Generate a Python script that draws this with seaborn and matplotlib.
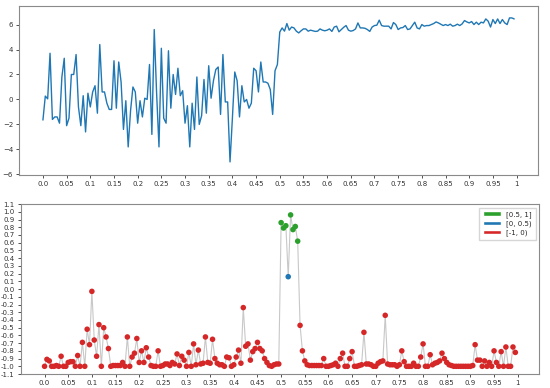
import matplotlib
matplotlib.use("Agg")
import matplotlib.pyplot as plt
from matplotlib.patches import Patch
import numpy as np
import pandas as pd
import seaborn as sns

# DATA
signal = [
    -1.65, 0.27, 0.05, 3.7, -1.6, -1.4, -1.4, -1.9, 1.8, 3.3,
    -2.1, -1.5, 2.0, 2.0, 3.6, -0.6, -2.1, 0.3, -2.6, 0.5,
    -0.6, 0.6, 1.1, -1.1, 4.4, 0.6, 0.6, -0.3, -0.8, -0.8,
    3.1, -0.7, 3.0, 1.4, -2.4, -0.1, -3.8, -0.9, 1.0, 0.6,
    -1.9, -0.1, -1.4, 0.1, 0.0, 2.8, -2.8, 5.6, 0.5, -3.8,
    4.1, -1.5, -1.9, 3.9, -0.7, 2.0, 0.4, 2.5, 0.3, 0.7,
    -1.9, -0.5, -3.8, -0.3, -2.4, 1.8, -2.0, -1.3, 1.6, -1.1,
    2.7, 0.1, 1.5, 2.4, 2.6, -1.2, 3.6, -0.2, -0.2, -5.0,
    -1.5, 2.2, 1.5, -1.4, 1.1, -0.2, 0.0, -0.7, -0.3, 2.5,
    2.3, 0.6, 3.0, 1.4, 1.4, 1.3, 0.8, -1.2, 2.3, 2.8,
    5.4, 5.73, 5.47, 6.08, 5.55, 5.8, 5.73, 5.47, 5.33, 5.5,
    5.65, 5.65, 5.47, 5.55, 5.5, 5.45, 5.47, 5.65, 5.55, 5.5,
    5.55, 5.65, 5.45, 5.8, 5.87, 5.42, 5.6, 5.78, 5.92, 5.55,
    5.47, 5.52, 5.65, 6.13, 5.73, 5.73, 5.7, 5.6, 5.45, 5.8,
    5.92, 5.95, 6.35, 5.92, 5.87, 5.87, 5.87, 5.65, 6.16, 6.0,
    5.6, 5.73, 5.76, 5.92, 5.6, 5.65, 5.92, 6.19, 5.73, 5.65,
    6.0, 5.87, 5.92, 5.92, 6.0, 6.08, 6.21, 6.13, 6.03, 5.92,
    6.0, 5.92, 6.03, 5.87, 5.92, 6.03, 5.92, 6.05, 6.32, 6.21,
    6.13, 6.24, 6.0, 6.19, 6.0, 6.19, 6.13, 6.45, 6.27, 5.8,
    6.4, 6.08, 6.45, 6.08, 6.4, 6.13, 6.0, 6.53, 6.53, 6.45,
]

score = [
    -1.0, -0.91, -0.93, -1.0, -1.0, -0.99, -1.0, -0.87, -1.0, -1.0,
    -0.95, -0.94, -0.94, -1.0, -0.86, -1.0, -0.69, -1.0, -0.52, -0.72,
    -0.03, -0.66, -0.87, -0.46, -1.0, -0.5, -0.62, -0.77, -1.0, -0.99,
    -0.99, -0.99, -0.99, -0.95, -1.0, -0.62, -1.0, -0.88, -0.83, -0.64,
    -0.95, -0.8, -0.95, -0.76, -0.88, -0.99, -1.0, -1.0, -0.8, -1.0,
    -0.99, -0.97, -0.97, -0.99, -0.95, -0.97, -0.84, -0.99, -0.87, -0.92,
    -1.0, -0.82, -1.0, -0.71, -0.98, -0.79, -0.97, -0.96, -0.62, -0.95,
    -0.96, -0.65, -0.9, -0.96, -0.98, -0.98, -1.0, -0.88, -0.89, -1.0,
    -0.98, -0.88, -0.79, -0.96, -0.24, -0.74, -0.71, -0.92, -0.81, -0.77,
    -0.69, -0.77, -0.8, -0.9, -0.95, -0.99, -1.0, -0.98, -0.97, -0.97,
    0.86, 0.79, 0.82, 0.16, 0.96, 0.77, 0.81, 0.62, -0.47, -0.8,
    -0.93, -0.98, -0.99, -0.99, -0.99, -0.99, -0.99, -0.99, -0.9, -1.0,
    -1.0, -0.99, -0.98, -0.96, -1.0, -0.9, -0.83, -1.0, -1.0, -0.9,
    -0.81, -1.0, -1.0, -0.99, -0.98, -0.56, -0.97, -0.97, -0.98, -1.0,
    -1.0, -0.96, -0.94, -0.93, -0.34, -0.97, -0.98, -0.98, -0.98, -1.0,
    -0.98, -0.8, -0.94, -1.0, -1.0, -1.0, -0.96, -1.0, -1.0, -0.88,
    -0.71, -1.0, -1.0, -0.85, -0.98, -0.96, -0.95, -0.93, -0.83, -0.9,
    -0.95, -0.98, -0.99, -1.0, -1.0, -1.0, -1.0, -1.0, -1.0, -1.0,
    -1.0, -0.99, -0.72, -0.92, -0.92, -1.0, -0.93, -1.0, -0.95, -1.0,
    -0.8, -0.95, -1.0, -0.81, -1.0, -0.75, -1.0, -1.0, -0.75, -0.82,
]

x_ticks = [0.0, 0.05, 0.1, 0.15, 0.2, 0.25, 0.3, 0.35, 0.4, 0.45, 0.5,
           0.55, 0.6, 0.65, 0.7, 0.75, 0.8, 0.85, 0.9, 0.95, 1.0]
x_labels = ['0.0', '0.05', '0.1', '0.15', '0.2', '0.25', '0.3', '0.35', '0.4', '0.45', '0.5',
            '0.55', '0.6', '0.65', '0.7', '0.75', '0.8', '0.85', '0.9', '0.95', '1']
bins = ['[0.5, 1]', '[0, 0.5)', '[-1, 0)']
bin_colors = ['#2ca02c', '#1f77b4', '#d62728']

t = np.arange(len(signal)) * 0.005


def bin_of(v):
    if v >= 0.5:
        return bins[0]
    if v >= 0:
        return bins[1]
    return bins[2]


top = pd.DataFrame({'t': t, 'signal': signal})
bottom = pd.DataFrame({'t': t, 'score': score, 'bin': [bin_of(v) for v in score]})

sns.set_style('ticks')
plt.rcParams['font.family'] = ['DejaVu Sans']

fig = plt.figure(figsize=(5.5, 3.88), dpi=100)
ax1 = fig.add_axes([0.035, 0.549, 0.943, 0.436])
ax2 = fig.add_axes([0.038, 0.036, 0.942, 0.438])

# top: raw signal
sns.lineplot(data=top, x='t', y='signal', ax=ax1, color='#1f77b4', linewidth=1.0)
ax1.set_ylim(-6.05, 7.5)
ax1.set_yticks([-6, -4, -2, 0, 2, 4, 6])

# bottom: score, coloured by bin
sns.lineplot(data=bottom, x='t', y='score', ax=ax2, color='#c8c8c8', linewidth=0.8)
sns.scatterplot(data=bottom, x='t', y='score', hue='bin', hue_order=bins,
                palette=bin_colors, ax=ax2, s=16, linewidth=0, legend=False, zorder=3)
ax2.set_ylim(-1.1, 1.1)
y_ticks = np.round(np.arange(-1.1, 1.15, 0.1), 1)
ax2.set_yticks(y_ticks)
ax2.set_yticklabels([f'{abs(v):.1f}' if abs(v) < 1e-9 else f'{v:.1f}' for v in y_ticks])

handles = [Patch(facecolor=c, label=b) for b, c in zip(bins, bin_colors)]
ax2.legend(handles=handles, loc='upper right', fontsize=5, handlelength=2.6,
           handleheight=0.6, frameon=True, borderpad=0.5, labelspacing=0.35,
           edgecolor='#cccccc', fancybox=False)

for ax in (ax1, ax2):
    ax.set_xlim(-0.05, 1.045)
    ax.set_xticks(x_ticks)
    ax.set_xticklabels(x_labels)
    ax.set_xlabel('')
    ax.set_ylabel('')
    ax.tick_params(labelsize=5, colors='#333333', length=2.5, width=0.6, pad=2)
    for s in ax.spines.values():
        s.set_visible(True)
        s.set_color('#8a8a8a')
        s.set_linewidth(0.8)

fig.savefig('out.png', dpi=100)
